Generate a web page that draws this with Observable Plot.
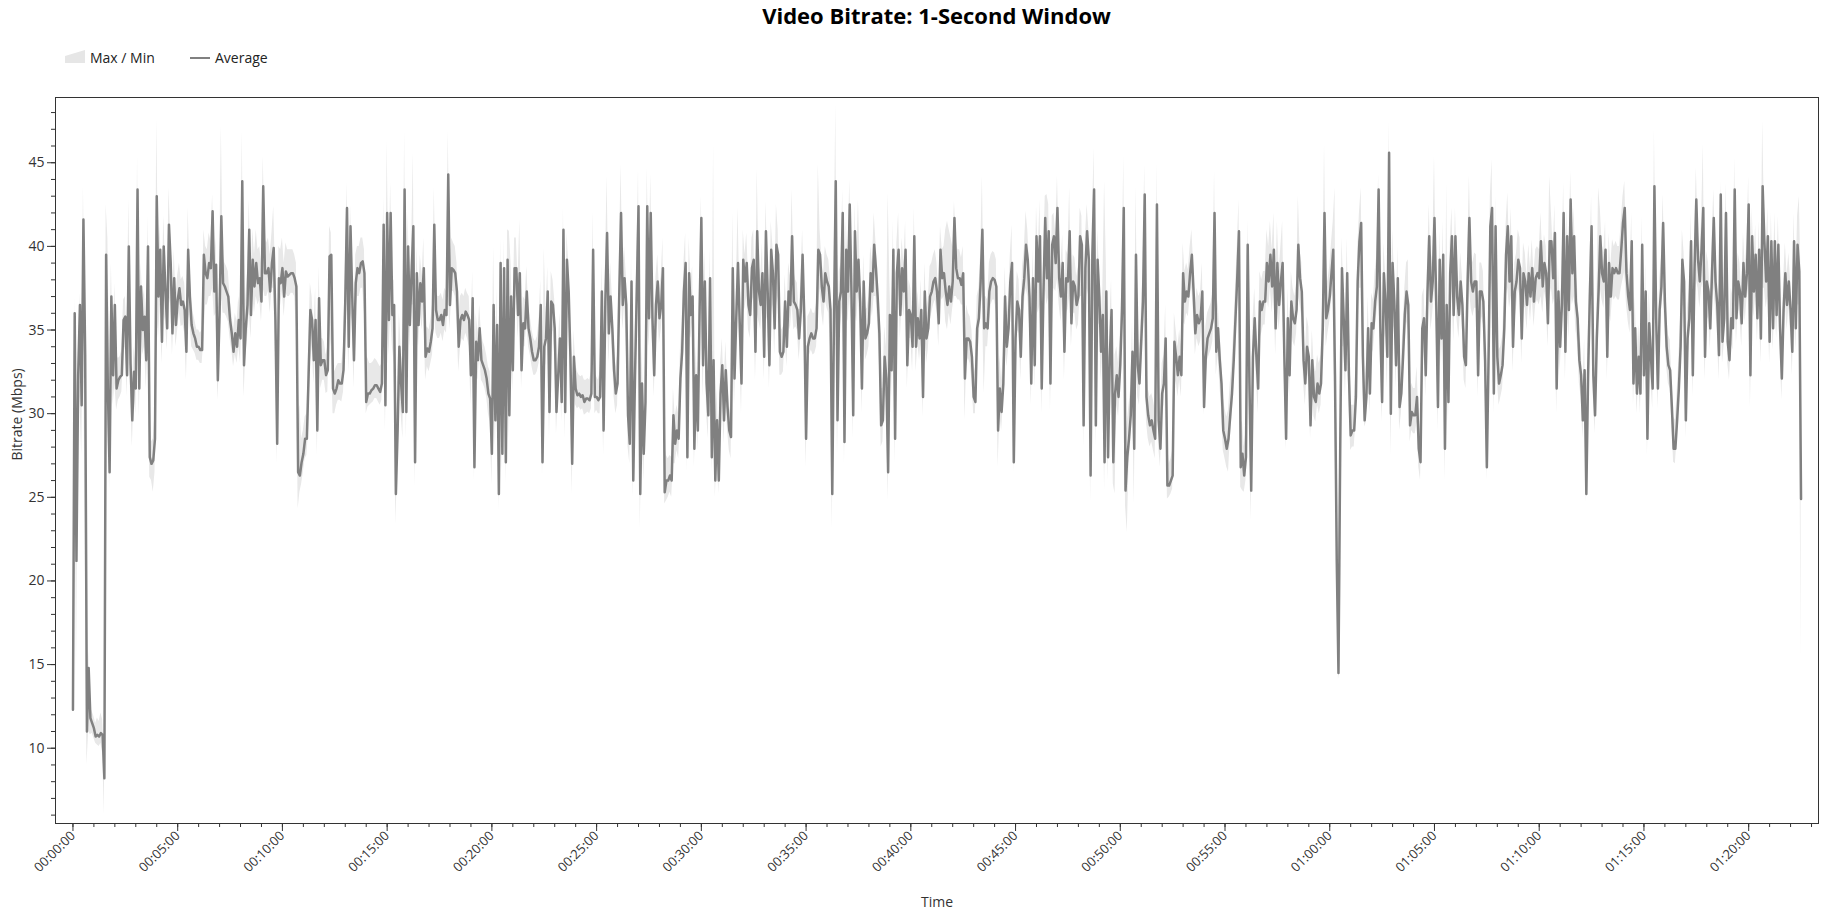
<!DOCTYPE html>
<html><head><meta charset="utf-8">
<script src="https://cdn.jsdelivr.net/npm/d3@7"></script>
<script src="https://cdn.jsdelivr.net/npm/@observablehq/plot@0.6"></script>
<style>
html,body{margin:0;padding:0;background:#fff;overflow:hidden;}
body{font-family:"Open Sans",sans-serif;color:#222;}
#header{position:relative;width:1845px;height:74px;}
#title{position:absolute;left:55px;width:1763px;top:4px;text-align:center;font-weight:700;font-size:22px;line-height:22px;color:#000;}
.lg{position:absolute;top:51px;font-size:14px;line-height:14px;color:#222;white-space:nowrap;}
#chart svg{display:block;}
</style></head>
<body>
<div id="header">
  <div id="title">Video Bitrate: 1-Second Window</div>
  <svg style="position:absolute;left:65px;top:50px" width="20" height="13"><polygon points="0,6 20,0 20,13 0,13" fill="#e6e6e6"/></svg>
  <div class="lg" style="left:90px">Max / Min</div>
  <svg style="position:absolute;left:190px;top:52px" width="20" height="12"><line x1="0" y1="6" x2="20" y2="6" stroke="#808080" stroke-width="2"/></svg>
  <div class="lg" style="left:215px">Average</div>
</div>
<div id="chart"></div>
<script>
// Sampling interval of the series (seconds)
const sampleStepSec = 5;

// Average bitrate (Mbps), one value every 5 s starting at 00:00:00
const avgMbps = [
12.3,36.0,21.2,32.3,36.5,30.5,41.6,33.5,11.0,14.8,11.8,11.5,
11.2,10.7,10.8,10.7,10.9,10.8,8.2,39.5,31.5,26.5,37.0,32.3,
36.5,31.5,32.0,32.2,32.3,35.6,35.8,32.3,40.0,33.0,29.6,32.5,
31.5,43.4,31.5,37.6,35.0,35.8,33.2,40.0,27.4,27.0,27.2,28.5,
43.0,37.0,39.8,34.3,40.0,37.3,35.1,41.3,39.0,34.8,38.1,35.3,
36.8,37.5,36.5,36.7,36.2,33.7,39.8,37.0,35.3,34.8,34.5,34.0,
34.0,33.8,33.8,39.5,38.4,38.1,39.0,38.7,42.1,37.3,38.9,32.0,
36.0,41.8,37.8,37.6,37.3,37.0,35.6,34.8,33.7,34.8,34.0,35.6,
34.5,43.9,32.9,35.1,36.5,41.0,35.9,39.2,37.6,39.0,37.8,38.1,
36.7,43.6,38.4,38.4,38.7,37.3,39.0,39.9,35.6,28.2,38.1,37.8,
38.7,37.0,38.5,38.2,38.3,38.4,38.4,38.1,37.6,26.5,26.3,27.1,
27.6,28.5,28.5,32.3,36.2,35.6,33.2,35.6,29.0,36.9,32.9,33.2,
33.2,32.3,32.6,39.4,39.5,31.5,31.2,31.5,32.0,31.8,31.8,32.6,
36.7,42.3,34.0,41.2,37.0,33.2,37.8,38.7,38.4,39.0,39.1,38.4,
30.7,31.2,31.2,31.4,31.5,31.7,31.7,31.5,31.3,31.8,41.3,30.5,
42.0,35.6,42.0,35.9,36.5,25.2,29.0,34.0,31.8,30.1,43.4,30.1,
40.0,35.3,38.4,41.2,27.1,38.4,35.3,37.8,36.7,38.7,33.4,33.9,
33.7,34.3,35.1,41.3,36.2,35.6,35.6,35.9,35.3,36.2,35.9,44.3,
36.5,38.7,38.6,38.4,37.3,34.0,35.6,35.9,35.6,36.1,35.9,35.6,
32.3,36.9,26.8,34.3,33.2,35.1,33.2,32.9,32.6,32.1,31.2,30.9,
27.6,36.5,29.6,35.3,25.2,39.0,27.6,38.7,
27.1,39.2,29.9,37.0,32.6,38.7,38.7,35.9,38.4,32.6,35.4,35.1,
37.3,35.1,34.5,33.7,33.2,33.2,33.4,34.0,36.5,27.1,34.0,34.5,
37.3,30.1,36.7,36.5,35.1,30.1,32.3,34.5,30.7,41.0,30.1,39.2,
37.3,33.4,27.0,33.4,31.5,31.1,31.2,31.0,31.1,30.7,30.9,30.9,
30.8,31.2,39.8,31.0,31.0,30.8,31.0,37.3,29.0,36.7,40.8,34.8,
37.0,35.1,32.6,31.2,31.8,37.3,42.0,36.5,38.1,36.5,29.9,28.2,
37.9,26.0,32.3,37.3,42.4,25.2,31.8,27.6,30.7,42.4,35.7,42.0,
35.7,32.3,36.5,37.9,35.7,36.5,38.7,25.3,26.0,26.0,26.3,26.0,
29.9,28.2,29.0,28.5,32.1,33.7,37.3,39.0,27.4,38.4,35.9,37.0,
27.9,32.3,29.0,36.2,41.7,32.9,37.9,31.8,29.9,38.1,27.4,33.2,
26.0,29.6,26.0,31.2,32.9,29.6,32.6,30.4,29.0,28.6,38.7,32.1,
35.7,39.0,35.4,31.8,39.2,37.9,39.0,36.5,35.9,38.7,39.2,33.7,
40.9,37.3,36.5,38.4,33.4,40.9,37.3,32.9,39.8,38.4,35.1,40.1,
39.5,33.7,33.4,33.7,36.7,34.0,37.3,36.5,40.6,36.7,36.5,36.2,
34.5,36.2,39.5,35.7,28.5,34.0,34.5,34.8,34.5,34.5,35.1,39.8,
39.5,37.6,36.7,38.4,37.9,37.6,36.2,25.2,35.9,43.9,29.6,36.7,
37.3,42.0,28.3,39.8,37.3,42.5,37.3,29.9,40.9,37.3,39.2,36.7,
31.5,37.9,34.5,34.8,35.4,38.4,37.3,40.1,38.7,37.0,34.8,29.3,
29.6,33.4,32.1,26.5,35.9,32.6,39.8,28.5,38.4,39.8,35.9,38.7,
37.3,39.8,32.9,36.2,35.9,34.0,40.6,34.0,35.7,34.5,36.2,31.0,
37.3,34.5,35.1,37.0,37.3,37.9,38.1,37.3,35.4,39.8,38.1,38.4,
37.3,36.5,37.6,36.7,37.9,41.7,38.7,38.1,38.1,37.7,38.4,32.1,
34.5,34.5,34.3,33.4,31.0,30.7,35.1,35.7,37.9,41.0,35.1,35.4,
35.1,37.3,37.9,38.1,38.0,37.6,29.0,31.5,30.1,31.8,37.0,34.0,
35.1,37.9,39.0,27.1,34.5,36.7,36.2,33.4,37.0,38.1,40.1,39.2,
37.0,31.8,38.1,32.9,40.6,37.9,40.6,31.5,37.3,41.7,38.1,40.9,
31.8,40.1,40.6,39.0,42.3,38.1,37.0,39.0,33.7,38.1,37.9,40.9,
35.4,37.9,37.6,36.5,37.0,40.6,40.1,29.3,38.7,40.9,39.2,26.3,
39.5,43.4,29.3,39.2,37.0,33.7,35.9,27.1,37.3,27.4,33.4,36.2,
27.1,31.2,32.3,31.0,32.9,36.2,42.3,25.4,27.4,28.5,29.9,33.7,
27.9,39.5,32.9,31.8,34.3,36.7,43.1,31.0,29.9,29.3,29.6,29.0,
28.5,42.5,29.6,27.9,31.2,31.8,34.5,25.7,25.7,26.0,26.3,34.3,
33.4,32.3,33.4,32.3,38.4,36.7,37.3,37.0,38.4,39.5,37.3,34.8,
35.9,35.4,35.7,37.3,30.4,33.4,34.5,34.8,35.1,35.7,42.0,33.7,
35.1,33.2,31.8,29.0,28.5,27.9,28.5,29.9,31.2,33.2,35.7,38.1,
40.9,26.8,27.6,26.3,27.4,40.1,31.8,25.4,33.4,35.7,33.4,31.5,
36.7,36.2,36.7,36.7,39.0,37.9,39.5,37.6,39.8,35.1,39.0,36.5,
37.9,39.0,33.4,28.5,35.7,32.3,36.7,35.7,35.4,36.2,40.1,38.1,
37.3,33.2,31.8,34.0,33.4,29.3,33.2,31.0,30.7,31.8,31.2,31.8,
35.1,42.0,35.7,36.2,37.0,38.4,39.8,32.3,21.3,14.5,27.9,38.7,
35.7,32.6,38.4,32.3,28.7,29.0,29.0,31.0,37.9,40.3,41.4,33.4,
29.6,31.0,35.1,31.2,35.4,35.1,36.7,37.6,43.4,35.1,30.7,
38.4,36.5,33.4,45.6,30.0,39.0,36.7,32.9,38.1,30.4,31.2,33.4,
35.9,37.3,36.5,29.3,30.1,29.9,29.9,31.0,27.9,27.1,35.1,35.7,
32.3,37.3,40.6,36.7,37.9,41.7,36.7,30.4,39.2,34.5,39.5,27.9,
36.5,30.7,38.4,40.6,35.9,40.6,37.0,35.9,37.9,36.5,33.4,32.9,
37.9,41.7,37.9,37.3,37.9,37.9,32.3,37.3,37.3,36.7,33.2,26.8,
33.4,41.2,42.3,31.2,41.2,33.4,31.8,32.3,32.9,35.1,39.5,41.2,
37.9,40.6,34.0,37.3,37.9,39.2,38.7,34.5,38.4,37.9,36.5,38.4,
37.0,38.7,36.7,38.1,38.4,38.1,40.3,37.6,39.0,38.4,35.4,40.3,
40.3,38.1,40.8,31.5,37.3,34.0,36.5,42.0,33.7,40.6,36.2,42.8,
38.4,40.6,36.7,35.7,33.2,32.3,29.6,32.6,25.2,32.3,37.0,41.2,
32.3,29.9,34.5,37.3,40.6,38.4,37.9,39.8,33.4,39.0,37.0,38.7,
38.4,38.7,38.4,38.4,39.8,41.4,42.3,38.4,37.0,36.2,40.3,31.8,
35.1,31.2,33.4,31.2,40.1,32.3,37.3,28.5,35.4,33.4,31.5,43.6,
35.7,31.5,36.2,37.6,41.4,36.7,34.0,32.9,32.6,30.4,27.9,27.9,
29.6,31.5,34.0,39.2,37.9,29.6,34.5,35.7,40.3,32.3,38.7,42.8,
39.2,37.9,39.8,42.3,33.4,37.9,37.3,35.1,38.4,41.7,37.9,36.5,
33.5,43.1,34.3,35.7,42.0,34.3,33.2,35.7,35.1,43.4,35.7,37.9,
37.3,35.4,39.0,37.0,38.4,42.5,32.3,40.6,37.3,39.5,35.7,39.8,
34.5,43.6,40.3,37.9,40.6,34.3,40.3,35.1,40.3,35.9,40.1,35.1,
32.1,36.2,38.4,36.5,37.9,36.2,33.7,40.3,35.1,40.1,38.5,24.9
];

// Maximum bitrate within each sample window (Mbps)
const maxMbps = [
13.0,37.0,23.5,33.5,37.2,32.0,43.6,35.0,12.3,15.8,12.4,12.2,
11.9,11.5,11.8,11.6,12.1,11.7,9.5,42.5,40.5,33.0,39.0,34.0,
37.8,33.5,33.3,33.4,33.8,36.8,37.0,34.5,42.8,35.5,31.5,34.0,
33.0,45.4,33.5,39.0,36.8,37.4,35.0,41.8,30.0,28.3,28.5,30.0,
47.6,39.2,41.3,36.0,41.8,39.0,36.8,43.5,40.5,36.5,39.8,37.0,
38.3,39.0,38.0,38.2,37.8,35.5,42.3,38.6,36.8,36.0,35.5,35.0,
35.0,34.8,35.0,41.0,40.0,39.8,40.8,40.3,43.1,39.0,40.5,34.0,
38.0,47.2,39.5,39.0,38.8,38.5,37.0,36.0,35.0,36.0,35.5,37.0,
36.0,46.9,35.0,37.0,38.5,42.8,37.8,41.0,39.5,41.0,39.8,40.0,
39.0,45.4,40.5,40.2,40.5,39.5,40.8,42.4,38.5,32.0,40.0,39.8,
40.5,39.0,40.2,39.8,39.8,39.8,39.8,39.5,39.0,30.0,30.5,28.5,
29.0,29.8,30.0,34.0,37.8,37.0,35.0,37.5,31.5,38.8,34.5,34.5,
34.3,33.5,34.0,41.2,40.8,33.5,32.5,32.8,33.0,33.0,33.0,34.0,
38.5,43.8,36.0,42.5,39.0,35.0,39.5,40.0,40.0,40.5,40.5,39.8,
33.5,33.3,33.0,33.0,33.1,33.3,33.2,33.0,32.8,33.0,43.0,33.0,
46.3,37.5,43.8,37.8,38.0,29.0,31.5,36.0,34.0,32.0,46.9,33.0,
42.0,37.0,40.0,45.6,30.0,40.0,37.0,39.5,38.2,40.5,35.0,35.2,
35.0,35.6,36.5,43.5,37.8,37.0,37.0,37.2,36.8,37.5,37.3,46.9,
38.5,40.5,40.2,40.0,39.0,35.8,37.0,37.2,37.0,37.5,37.2,37.0,
34.5,38.5,29.5,36.0,34.8,36.5,34.8,34.3,34.0,33.5,32.8,32.5,
30.0,40.0,32.0,37.5,28.5,40.5,30.0,40.5,
29.0,41.0,40.9,39.0,35.0,40.5,40.5,38.0,41.6,35.0,37.0,36.8,
38.8,36.5,35.8,35.0,34.5,34.3,34.6,35.5,38.0,29.5,39.9,36.0,
38.8,32.0,38.5,38.0,36.8,32.0,34.0,36.0,32.5,42.3,32.5,40.8,
39.0,35.5,29.5,35.0,33.0,32.5,32.3,32.2,32.3,32.0,32.0,32.1,
32.0,32.5,42.1,32.5,32.2,32.0,32.5,39.0,31.5,38.5,44.2,37.0,
39.0,37.0,34.5,32.8,33.5,39.0,44.9,38.5,40.0,38.3,32.0,30.5,
39.5,28.5,34.5,39.0,44.6,28.0,34.0,30.0,33.0,44.7,38.0,44.3,
38.0,34.5,38.2,39.5,37.5,38.2,40.5,28.0,27.5,27.3,27.5,27.4,
31.5,29.8,30.5,30.0,33.8,35.5,39.0,40.8,30.0,40.5,37.8,38.8,
30.0,34.0,31.0,38.0,43.0,35.0,39.8,34.0,31.5,40.0,30.0,46.1,
28.5,31.5,28.0,33.0,34.5,31.5,34.3,32.0,30.5,30.0,42.0,34.0,
37.5,42.3,37.2,33.8,41.0,39.5,40.8,38.3,37.5,40.5,41.0,35.8,
44.6,39.0,38.2,40.2,35.5,42.7,39.0,35.0,41.5,40.0,37.0,42.5,
41.0,35.5,35.0,35.2,38.3,35.8,39.0,38.2,43.4,38.5,38.0,37.8,
36.0,37.8,41.0,37.5,31.0,35.8,36.0,36.3,36.0,36.0,36.6,44.9,
41.0,39.3,38.3,40.0,39.5,39.2,38.0,28.0,38.0,48.5,32.0,38.5,
39.0,43.4,31.0,41.5,39.0,44.0,39.0,32.0,42.5,39.0,42.8,38.5,
33.5,39.5,36.2,36.3,37.0,40.0,39.0,42.0,40.3,38.8,36.5,31.5,
31.5,35.2,34.0,43.2,37.8,34.5,41.5,31.0,40.2,42.0,37.8,40.5,
39.0,41.5,35.0,38.0,37.5,35.8,42.3,36.0,37.3,36.2,38.0,33.0,
39.0,36.3,36.8,38.8,39.0,39.5,39.8,39.0,37.2,41.2,39.8,40.0,
41.0,41.5,41.0,40.5,40.0,42.7,40.3,39.8,39.8,39.3,40.0,34.0,
36.5,36.0,35.8,35.0,33.0,32.5,37.0,37.5,39.5,44.2,37.0,37.0,
36.8,39.0,39.5,39.7,39.6,39.2,31.0,33.5,32.0,33.5,38.8,35.8,
36.8,39.5,41.3,30.0,36.5,38.5,38.0,35.2,38.8,39.8,42.1,41.0,
38.8,34.0,39.8,35.0,42.4,39.5,42.8,34.0,39.0,43.0,43.1,42.5,
34.0,41.8,42.0,40.8,44.2,40.0,38.8,40.7,35.8,39.8,39.5,43.5,
37.3,39.5,39.3,38.2,38.8,42.3,41.8,31.5,40.5,42.5,41.0,29.0,
41.5,45.9,31.5,41.0,38.8,35.5,37.5,43.9,39.0,30.0,35.5,38.0,
29.5,33.5,34.0,33.0,34.8,38.0,45.4,28.5,29.5,30.5,31.5,35.5,
30.0,43.6,35.0,33.8,36.0,38.5,44.9,33.5,31.5,31.0,31.2,30.8,
30.2,45.0,32.0,30.0,33.0,33.5,36.5,28.5,27.0,27.3,27.8,36.0,
35.0,34.0,35.0,34.0,40.2,38.5,39.0,38.6,40.0,41.0,39.0,36.5,
37.5,37.0,37.3,39.0,32.5,35.2,36.0,36.3,36.6,37.2,44.5,35.5,
36.8,35.0,33.5,31.0,30.3,29.8,30.2,31.8,33.0,35.0,37.5,40.0,
42.8,29.5,29.5,28.0,29.0,41.6,34.0,28.0,35.5,37.5,35.2,33.5,
38.5,38.0,38.5,38.5,41.0,40.0,41.5,39.8,42.0,37.5,41.5,38.5,
40.0,41.5,35.5,30.5,37.5,34.5,38.5,37.5,37.0,37.8,43.0,39.8,
39.0,35.2,33.5,35.8,35.2,31.5,35.0,33.0,32.5,33.5,33.0,33.5,
37.0,46.1,37.5,38.0,38.8,40.2,41.5,43.5,29.0,21.0,30.5,40.5,
37.5,34.5,40.5,34.5,30.5,30.5,30.5,33.0,39.8,42.0,43.5,35.5,
31.5,33.0,37.0,33.0,37.2,36.8,38.5,39.5,44.3,37.0,33.0,
40.2,38.3,35.5,47.5,33.0,41.0,38.5,35.0,40.0,32.5,33.0,35.2,
37.5,39.0,39.2,31.5,31.8,31.5,31.5,32.8,30.0,29.0,37.0,37.5,
34.3,39.0,42.5,38.5,39.8,45.4,38.5,32.5,41.0,36.5,41.5,30.5,
43.8,32.8,40.2,42.3,37.8,42.3,38.8,37.6,39.6,38.2,35.3,34.8,
39.7,44.2,39.6,39.0,39.6,39.5,34.3,39.0,39.0,38.5,35.2,29.5,
35.5,43.0,45.2,33.5,43.0,35.5,33.8,34.0,34.6,37.0,41.3,43.2,
39.7,42.3,36.0,39.0,39.6,41.0,40.5,36.5,40.2,39.6,38.2,40.1,
38.7,40.4,38.4,39.8,40.0,39.8,42.0,39.3,40.7,40.0,37.3,44.2,
42.0,39.8,42.5,33.8,39.0,36.0,38.3,43.8,35.8,42.3,38.0,44.5,
40.2,42.3,38.5,37.5,35.0,34.0,31.5,34.5,28.0,34.5,38.8,43.0,
34.5,31.8,36.3,43.5,42.3,40.2,39.6,41.5,35.5,40.8,38.8,40.4,
40.0,40.3,40.0,40.0,41.5,43.0,43.9,40.2,38.8,38.0,42.0,34.0,
37.0,33.3,35.3,33.2,41.8,34.5,39.0,31.0,37.3,35.3,33.5,47.0,
37.7,33.5,38.0,39.3,43.1,38.5,36.0,34.7,34.4,32.3,29.8,29.6,
31.3,33.3,35.8,41.0,39.6,31.8,36.3,37.5,42.0,34.3,40.5,44.7,
41.0,39.6,41.5,46.1,35.5,39.7,39.0,37.0,40.2,43.4,39.6,38.3,
35.5,43.9,36.3,37.5,43.8,36.3,35.0,37.5,37.0,45.3,37.6,39.6,
39.0,37.2,40.8,38.8,40.2,44.2,34.5,42.3,39.0,41.3,37.5,41.5,
36.5,47.5,42.0,39.7,42.3,36.3,42.0,37.0,42.0,37.8,41.8,37.0,
34.0,38.0,40.2,38.3,39.6,38.0,35.7,42.0,37.0,41.8,43.0,38.0
];

// Minimum bitrate within each sample window (Mbps)
const minMbps = [
11.6,34.8,14.2,29.0,31.0,27.5,36.0,22.5,9.0,11.0,10.8,10.9,
10.6,10.3,10.2,10.1,10.3,9.7,6.0,36.0,29.5,25.5,33.5,30.5,
31.8,30.2,30.8,31.0,31.3,33.5,34.0,31.0,36.0,31.0,28.0,31.0,
30.0,35.0,29.8,35.0,33.5,34.0,31.5,34.0,26.2,26.0,25.3,26.5,
36.0,34.5,36.5,33.0,36.0,35.5,33.8,37.0,36.5,33.5,36.0,34.0,
35.0,36.0,35.2,35.3,34.8,32.0,36.0,35.5,34.0,33.8,33.6,33.2,
33.2,33.0,33.0,34.5,36.5,36.5,37.0,37.0,37.5,35.8,36.0,30.8,
33.0,37.0,36.0,36.0,35.8,35.5,34.5,33.8,32.8,33.5,33.0,34.0,
33.0,36.0,31.0,33.5,34.5,36.0,34.5,37.0,36.0,37.0,36.5,36.8,
35.5,37.5,37.0,37.0,37.3,36.0,37.5,37.5,33.5,27.0,36.0,36.5,
37.3,35.8,37.2,37.0,37.0,37.2,37.2,37.0,35.0,24.3,25.3,25.8,
26.5,27.3,27.5,29.0,33.0,34.0,31.8,33.5,27.5,34.0,31.5,32.0,
32.0,31.2,31.3,35.0,34.0,30.0,30.0,30.5,30.8,30.8,30.7,31.3,
33.5,37.0,32.5,36.0,35.5,31.5,36.0,37.0,37.0,37.5,37.5,36.0,
30.0,30.4,30.5,30.6,30.7,30.9,30.9,30.7,30.5,30.8,36.0,29.0,
36.0,33.5,36.0,34.0,33.0,23.4,27.0,31.5,30.0,28.5,36.5,28.5,
36.0,34.0,36.5,36.5,25.6,35.0,34.0,36.0,35.0,36.5,32.0,32.8,
32.5,33.0,33.5,36.0,34.8,34.5,34.5,34.8,34.3,35.0,34.8,37.0,
35.0,37.3,37.3,37.0,35.5,32.5,34.0,34.5,34.3,34.8,34.5,34.0,
30.5,34.5,26.0,32.5,32.0,33.5,32.0,31.8,31.5,31.0,30.0,29.5,
25.7,33.0,28.0,33.0,24.2,34.0,26.5,35.0,
25.8,35.0,28.5,34.5,31.3,36.5,37.0,34.5,36.5,31.5,34.0,34.0,
35.5,34.0,33.5,32.8,32.3,32.3,32.5,33.0,34.5,26.3,32.5,33.0,
35.5,28.5,34.5,35.0,33.5,28.8,31.0,33.0,29.5,36.0,28.5,36.0,
35.5,31.5,25.2,31.5,30.5,30.3,30.4,30.2,30.3,29.9,30.0,30.1,
30.0,30.3,35.0,30.0,30.2,30.0,30.0,34.0,27.5,34.0,37.0,33.0,
35.5,33.5,31.0,30.0,30.5,34.5,37.5,35.0,36.5,34.0,28.0,27.0,
34.0,25.0,30.5,35.0,37.5,23.1,29.5,26.0,29.0,36.0,34.0,36.5,
34.0,31.0,34.5,36.0,34.2,35.0,36.5,24.6,24.8,25.0,25.3,25.0,
27.0,27.0,27.8,27.3,29.5,32.0,35.0,37.0,26.5,35.0,34.5,35.5,
26.8,30.5,27.8,33.5,36.5,31.0,35.5,30.0,28.5,35.0,26.5,31.0,
25.0,27.5,25.2,29.0,31.0,28.2,31.0,29.0,27.8,27.3,34.0,30.5,
33.8,36.5,33.8,30.0,36.0,36.3,37.0,35.0,34.5,36.5,37.0,32.0,
36.0,35.5,35.0,36.5,32.0,36.0,35.5,31.5,36.0,36.5,33.5,36.5,
37.0,32.3,32.3,32.5,34.5,32.8,35.5,35.0,36.5,35.0,35.2,35.0,
33.2,34.5,36.5,33.5,26.8,32.0,33.5,33.8,33.5,33.6,34.0,36.0,
37.5,36.0,35.2,36.8,36.3,36.0,34.0,23.1,33.0,37.0,27.5,34.5,
35.5,36.5,27.0,36.0,35.5,37.0,35.5,28.5,36.0,35.5,37.0,35.0,
30.0,35.5,33.2,33.5,34.0,36.5,35.8,37.0,37.0,35.5,33.0,28.0,
28.3,31.5,30.8,24.8,33.0,31.0,36.0,27.0,35.0,37.5,34.5,36.8,
35.8,37.0,31.5,34.5,34.5,32.5,36.5,32.5,34.2,33.2,34.5,29.8,
35.0,33.0,33.8,35.5,36.0,36.5,36.8,36.0,34.0,37.0,36.8,37.0,
35.5,35.0,36.0,35.3,36.3,37.0,37.0,36.8,36.8,36.5,36.5,29.6,
33.0,33.3,33.0,32.0,30.0,30.0,33.0,34.2,36.0,37.0,31.2,34.0,
34.0,35.5,36.5,36.8,36.8,36.0,26.8,30.0,29.0,30.5,34.0,32.8,
33.8,36.0,37.0,26.5,32.5,35.0,34.8,32.0,35.3,36.5,37.5,37.0,
35.3,30.5,35.5,31.5,36.5,36.0,36.5,30.0,35.0,37.5,36.5,37.0,
30.2,36.0,37.5,37.3,38.0,36.5,35.5,37.0,32.0,36.0,36.2,37.0,
34.0,36.0,36.0,35.0,35.3,37.0,37.0,28.0,35.5,37.5,37.0,24.7,
35.0,38.0,28.0,35.5,35.3,32.0,34.0,25.4,34.0,26.0,31.5,34.0,
25.8,25.2,30.5,29.8,31.3,34.0,37.0,24.5,22.9,27.0,28.3,31.5,
24.6,34.0,31.0,30.5,32.5,34.5,37.0,29.5,28.5,28.0,28.3,27.8,
27.3,36.0,28.0,26.8,29.8,30.5,32.5,24.9,25.0,25.2,25.5,31.0,
32.0,31.0,32.0,31.0,35.5,35.3,36.0,35.8,37.0,37.5,35.8,33.5,
34.5,34.0,34.3,35.5,29.9,32.0,33.2,33.5,33.8,34.3,36.5,32.3,
33.5,31.8,30.3,27.8,27.3,26.8,26.5,28.5,29.8,31.5,33.8,36.0,
37.5,25.6,25.4,25.3,26.0,35.0,30.0,23.6,31.0,34.0,32.0,30.0,
34.5,34.8,35.3,35.3,37.0,36.3,37.5,36.0,37.5,33.5,36.5,35.0,
36.3,37.0,32.0,27.8,33.0,31.0,35.0,34.3,34.0,34.8,37.0,36.5,
35.8,31.8,30.5,32.5,32.0,28.5,31.5,29.8,29.5,30.5,30.0,30.5,
33.0,36.5,34.0,34.8,35.5,36.8,37.5,29.0,20.5,14.1,15.0,34.0,
34.0,31.0,35.0,30.5,27.8,28.0,28.0,29.5,35.0,37.5,37.5,31.5,
29.2,29.5,33.0,30.0,33.5,33.8,35.0,36.0,37.0,33.0,29.5,
35.0,34.5,31.5,38.0,27.5,35.5,35.0,31.5,35.5,29.0,30.0,32.0,
34.0,35.5,35.0,28.3,29.0,28.8,28.8,29.5,26.8,26.0,31.0,34.0,
31.0,35.0,37.0,35.0,36.0,37.5,35.0,29.0,35.5,33.0,36.0,26.0,
33.5,29.5,35.0,37.5,34.3,37.0,35.5,34.5,36.3,35.0,32.0,31.5,
35.5,37.5,36.3,35.8,36.3,36.3,31.0,35.0,35.8,35.3,31.8,26.0,
31.5,37.0,38.0,30.0,36.5,32.0,30.5,31.0,31.5,33.5,37.0,37.5,
36.3,37.0,32.5,35.5,36.3,37.5,37.0,33.0,36.5,36.3,35.0,36.8,
35.5,37.0,35.2,36.5,36.8,36.5,37.0,36.0,37.3,36.8,34.0,37.0,
37.5,36.5,37.0,30.0,35.0,32.5,35.0,37.5,32.0,36.5,34.5,37.5,
36.5,37.0,35.0,34.2,31.8,31.0,28.5,31.0,24.7,30.0,35.0,37.0,
31.0,28.8,32.8,35.5,37.5,36.8,36.3,37.5,32.0,36.0,35.5,37.0,
36.8,37.0,36.8,36.8,37.5,38.0,38.5,36.5,35.5,34.8,37.0,30.5,
33.5,30.0,32.0,30.0,36.0,31.0,35.0,27.5,33.0,32.0,30.3,37.0,
34.0,30.3,34.5,36.0,37.5,35.0,32.8,31.8,31.5,29.3,27.1,27.0,
28.5,30.3,32.5,36.5,36.3,28.5,33.0,34.2,37.0,31.0,36.0,38.0,
37.5,36.3,37.5,38.0,32.0,35.5,35.8,33.8,36.5,37.5,36.3,35.0,
32.0,37.0,33.0,34.2,37.5,33.0,32.0,34.2,33.8,37.5,34.2,36.3,
35.8,34.0,37.0,35.5,36.8,37.5,30.4,36.5,35.8,37.0,34.3,37.0,
33.0,37.5,37.5,36.3,37.0,33.0,36.5,33.8,36.5,34.5,36.5,33.8,
30.8,34.8,36.8,35.0,36.3,34.8,32.3,36.5,33.8,36.5,36.5,15.2
];

// Axis ticks
const xMajorTicksSec = [0,300,600,900,1200,1500,1800,2100,2400,2700,3000,3300,3600,3900,4200,4500,4800];
const xMinorTicksSec = d3.range(0, 5000, 60);
const yMajorTicks = [10,15,20,25,30,35,40,45];
const yMinorTicks = d3.range(6, 49, 1);

const rows = avgMbps.map((v, i) => ({t: i * sampleStepSec, avg: v, max: maxMbps[i], min: minMbps[i]}));

const pad = n => String(n).padStart(2, "0");
const fmtTime = s => `${pad(Math.floor(s / 3600))}:${pad(Math.floor((s % 3600) / 60))}:${pad(s % 60)}`;

const chart = Plot.plot({
  width: 1845,
  height: 843,
  marginLeft: 55,
  marginRight: 27,
  marginTop: 23,
  marginBottom: 94,
  style: {fontFamily: "'Open Sans', sans-serif", fontSize: "13px", color: "#333", background: "#fff"},
  x: {type: "linear", domain: [-50, 5000]},
  y: {domain: [5.5, 48.9]},
  marks: [
    Plot.areaY(rows, {x: "t", y1: "min", y2: "max", fill: "#e8e8e8", curve: "linear"}),
    Plot.lineY(rows, {x: "t", y: "avg", stroke: "#808080", strokeWidth: 2.5}),
    Plot.axisY(yMinorTicks, {tickSize: 4, tickFormat: () => "", label: null}),
    Plot.axisY(yMajorTicks, {tickSize: 8, tickPadding: 3, fontSize: 14, label: null, fill: "#333"}),
    Plot.axisX(xMinorTicksSec, {tickSize: 4, tickFormat: () => "", label: null}),
    Plot.axisX(xMajorTicksSec, {tickSize: 8, tickPadding: 2, tickRotate: -45, tickFormat: fmtTime, fontSize: 13, label: null, fill: "#333"}),
    Plot.text(["Time"], {frameAnchor: "bottom", dy: 83, fontSize: 14, fill: "#333"}),
    Plot.text(["Bitrate (Mbps)"], {frameAnchor: "left", dx: -37.5, rotate: -90, fontSize: 14, fill: "#333"}),
    Plot.frame({stroke: "#333"})
  ]
});
document.getElementById("chart").appendChild(chart);
</script>
</body></html>
